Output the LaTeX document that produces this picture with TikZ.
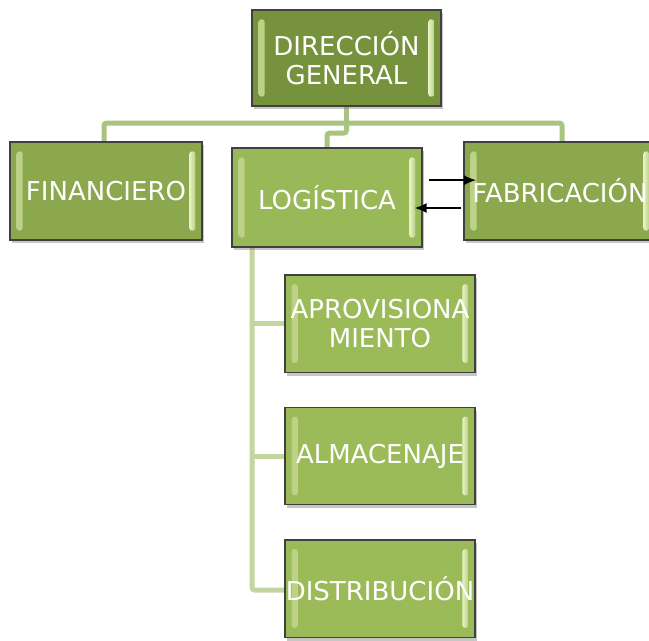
\documentclass[tikz,border=0pt]{standalone}
\usepackage{fontspec}
\setmainfont{DejaVu Sans}
\usetikzlibrary{shadows,arrows.meta}

\definecolor{oscuro}{RGB}{119,146,60}
\definecolor{medio}{RGB}{139,168,78}
\definecolor{claro}{RGB}{155,187,89}
\definecolor{brillo}{RGB}{232,242,196}
\definecolor{rama}{RGB}{169,196,127}
\definecolor{ramaclara}{RGB}{195,214,160}

\tikzset{
  unidad/.style={draw=black!75, line width=1pt, text=white, font=\fontsize{19.5}{22}\selectfont,
    align=center, inner sep=0pt, minimum width=142.5pt, minimum height=73pt,
    drop shadow={opacity=0.45, shadow xshift=1.5pt, shadow yshift=-2.5pt},
    path picture={
      \fill[left color=brillo!40!claro, right color=brillo, rounded corners=2pt]
        ([xshift=5pt,yshift=-7pt]path picture bounding box.north west)
        rectangle ([xshift=9.5pt,yshift=7pt]path picture bounding box.south west);
      \fill[left color=brillo, right color=brillo!40!claro, rounded corners=2pt]
        ([xshift=-9.5pt,yshift=-7pt]path picture bounding box.north east)
        rectangle ([xshift=-5pt,yshift=7pt]path picture bounding box.south east);
    }},
  conector/.style={draw=rama, line width=3.75pt, rounded corners=2pt},
  flecha/.style={-{Latex[length=9pt,width=7.5pt]}, line width=1.2pt, black}
}

\begin{document}
\begin{tikzpicture}[x=0.75pt,y=0.75pt,yscale=-1,xscale=1]
\useasboundingbox (0,0) rectangle (649,640);

%Connectors (drawn first, under the boxes)
\coordinate (barra) at (346.5,123);
\coordinate (quiebre) at (346.5,133);
\draw[conector] (346.5,100) -- (barra);
\draw[conector] (104,150) |- (barra) -| (562,150);
\draw[conector] (barra) -- (quiebre) -| (327,155);
\draw[conector, draw=ramaclara] (252,240) |- (300,590);
\draw[conector, draw=ramaclara] (252,323.5) -- (300,323.5);
\draw[conector, draw=ramaclara] (252,456) -- (300,456);

%Boxes
\node[unidad, fill=oscuro, minimum width=141.75pt, minimum height=72pt] (dir) at (346.5,58) {DIRECCIÓN\\GENERAL};
\node[unidad, fill=medio, minimum width=144pt, minimum height=73.5pt] (fin) at (106,191) {FINANCIERO};
\node[unidad, fill=claro!85!medio, minimum height=74.25pt] (log) at (327,197.5) {LOGÍSTICA};
\node[unidad, fill=medio, minimum width=144pt, minimum height=73.5pt] (fab) at (560,191) {FABRICACIÓN};

\node[unidad, fill=claro] (apr) at (380,323.5) {APROVISIONA\\MIENTO};
\node[unidad, fill=claro] (alm) at (380,456) {ALMACENAJE};
\node[unidad, fill=claro] (dis) at (380,588.5) {DISTRIBUCIÓN};

%Arrows between LOGÍSTICA and FABRICACIÓN
\draw[flecha] ([xshift=5pt,yshift=-13pt]log.east) -- ++(35pt,0);
\draw[flecha] ([xshift=-1.5pt,yshift=12.75pt]fab.west) -- ++(-35pt,0);

\end{tikzpicture}
\end{document}
